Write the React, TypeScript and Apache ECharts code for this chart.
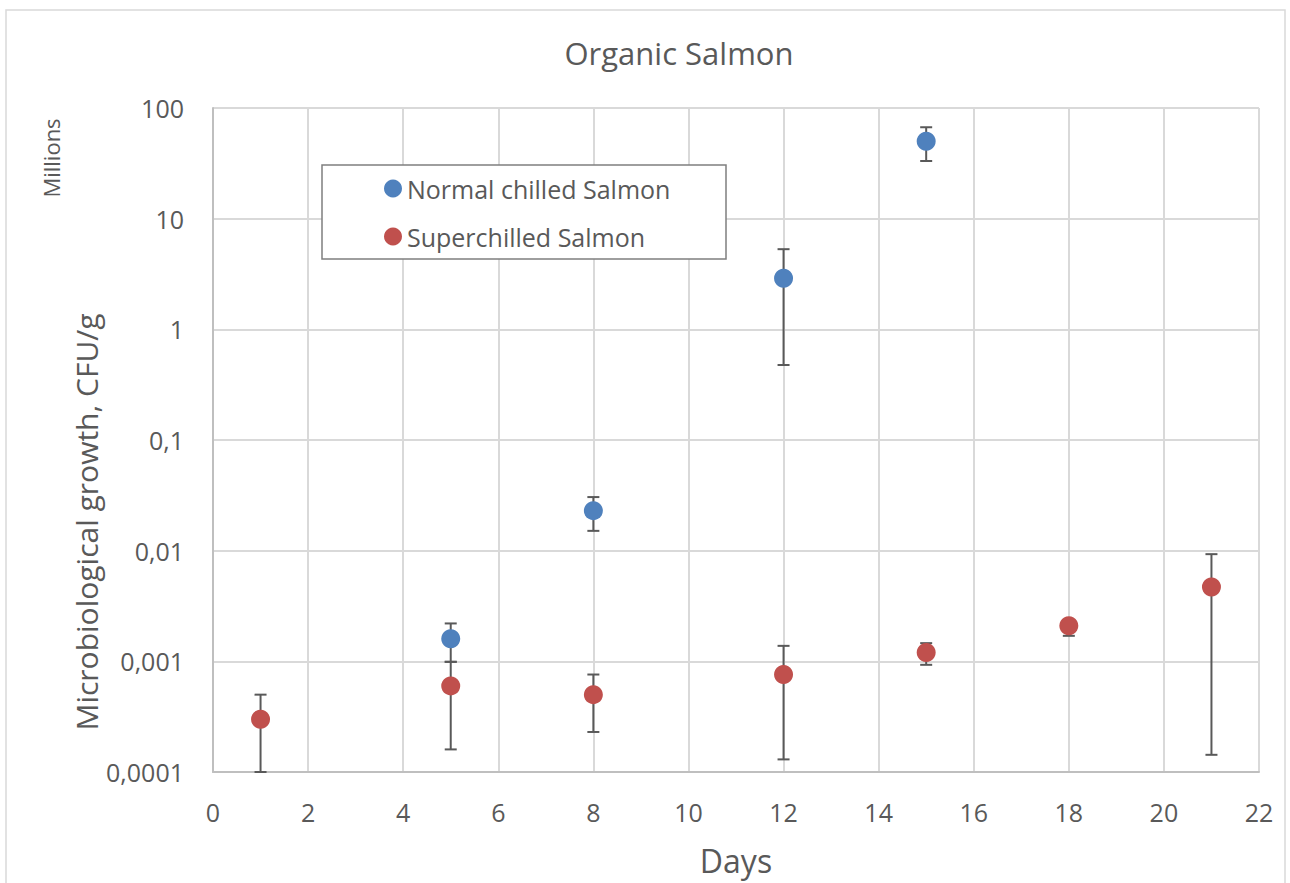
import React, { useEffect, useRef } from "react";
import * as echarts from "echarts";

const normalDays = [5, 8, 12, 15];
const normalMean = [0.0016, 0.023, 2.9, 50];
const normalLow = [0.00099, 0.0151, 0.476, 33.2];
const normalHigh = [0.0022, 0.0305, 5.3, 67];

const superDays = [1, 5, 8, 12, 15, 18, 21];
const superMean = [0.0003, 0.0006, 0.0005, 0.00076, 0.0012, 0.0021, 0.0047];
const superLow = [0.0001, 0.00016, 0.00023, 0.00013, 0.00093, 0.0017, 0.000143];
const superHigh = [0.0005, 0.00099, 0.00076, 0.00138, 0.00146, 0.00225, 0.0093];

const xTicks = [0, 2, 4, 6, 8, 10, 12, 14, 16, 18, 20, 22];

const FONT = "Open Sans";
const TXT = "#595959";

function yLabel(v: number): string {
  const e = Math.round(Math.log10(v));
  if (e >= 0) return String(Math.round(Math.pow(10, e)));
  return "0," + "0".repeat(-e - 1) + "1";
}

function errRender(params: any, api: any) {
  const x = api.value(0);
  const lo = api.value(1);
  const hi = api.value(2);
  const t = api.coord([x, hi]);
  const b = api.coord([x, lo]);
  const w = 6;
  const st = { stroke: "#595959", lineWidth: 2 };
  return {
    type: "group",
    children: [
      { type: "line", shape: { x1: t[0], y1: t[1], x2: b[0], y2: b[1] }, style: st },
      { type: "line", shape: { x1: t[0] - w, y1: t[1], x2: t[0] + w, y2: t[1] }, style: st },
      { type: "line", shape: { x1: b[0] - w, y1: b[1], x2: b[0] + w, y2: b[1] }, style: st },
    ],
  };
}

export default function App() {
  const ref = useRef<HTMLDivElement>(null);
  useEffect(() => {
    if (!ref.current) return;
    const chart = echarts.init(ref.current, null, { renderer: "svg" });
    const option: any = {
      animation: false,
      backgroundColor: "#ffffff",
      textStyle: { fontFamily: FONT },
      graphic: [
        {
          type: "rect",
          shape: { x: 6, y: 10, width: 1279, height: 900 },
          style: { fill: "none", stroke: "#d9d9d9", lineWidth: 1.5 },
          z: 0,
          silent: true,
        },
        {
          type: "rect",
          shape: { x: 322, y: 165, width: 404, height: 94 },
          style: { fill: "#ffffff", stroke: "#7f7f7f", lineWidth: 1.5 },
          z: 5,
          silent: true,
        },
        {
          type: "text",
          x: 679,
          y: 53,
          style: {
            text: "Organic Salmon",
            fontFamily: FONT,
            fontSize: 31,
            fill: TXT,
            align: "center",
            verticalAlign: "middle",
          },
        },
        {
          type: "text",
          x: 51,
          y: 158,
          rotation: Math.PI / 2,
          style: {
            text: "Millions",
            fontFamily: FONT,
            fontSize: 22,
            fill: TXT,
            align: "center",
            verticalAlign: "middle",
          },
        },
        {
          type: "text",
          x: 86,
          y: 522,
          rotation: Math.PI / 2,
          style: {
            text: "Microbiological growth, CFU/g",
            fontFamily: FONT,
            fontSize: 30,
            fill: TXT,
            align: "center",
            verticalAlign: "middle",
          },
        },
      ],
      legend: {
        orient: "vertical",
        left: 379,
        top: 171,
        itemWidth: 18,
        itemHeight: 18,
        itemGap: 23,
        z: 10,
        icon: "circle",
        textStyle: { fontFamily: FONT, fontSize: 25, color: TXT, lineHeight: 25 },
        data: ["Normal chilled Salmon", "Superchilled Salmon"],
      },
      grid: { left: 213, top: 108, right: 31, bottom: 111, containLabel: false },
      xAxis: {
        type: "value",
        min: 0,
        max: 22,
        interval: 2,
        name: "Days",
        nameLocation: "middle",
        nameGap: 72,
        nameTextStyle: { fontFamily: FONT, fontSize: 32, color: TXT },
        axisLine: { show: true, lineStyle: { color: "#bfbfbf", width: 2 } },
        axisTick: { show: false },
        axisLabel: { fontFamily: FONT, fontSize: 25, color: TXT, margin: 27, formatter: (v: number) => (xTicks.includes(v) ? String(v) : "") },
        splitLine: { show: true, lineStyle: { color: "#d9d9d9", width: 2 } },
      },
      yAxis: {
        type: "log",
        logBase: 10,
        min: 0.0001,
        max: 100,
        axisLine: { show: true, lineStyle: { color: "#bfbfbf", width: 2 } },
        axisTick: { show: false },
        axisLabel: { fontFamily: FONT, fontSize: 25, color: TXT, margin: 29, formatter: (v: number) => yLabel(v) },
        splitLine: { show: true, lineStyle: { color: "#d9d9d9", width: 2 } },
        minorSplitLine: { show: false },
      },
      series: [
        {
          name: "Normal chilled Salmon err",
          type: "custom",
          renderItem: errRender,
          data: normalDays.map((d, i) => [d, normalLow[i], normalHigh[i]]),
          encode: { x: 0, y: [1, 2] },
          clip: false,
          z: 2,
          silent: true,
        },
        {
          name: "Superchilled Salmon err",
          type: "custom",
          renderItem: errRender,
          data: superDays.map((d, i) => [d, superLow[i], superHigh[i]]),
          encode: { x: 0, y: [1, 2] },
          clip: false,
          z: 2,
          silent: true,
        },
        {
          name: "Normal chilled Salmon",
          type: "scatter",
          symbol: "circle",
          symbolSize: 19,
          itemStyle: { color: "#4f81bd", opacity: 1 },
          data: normalDays.map((d, i) => [d, normalMean[i]]),
          z: 3,
        },
        {
          name: "Superchilled Salmon",
          type: "scatter",
          symbol: "circle",
          symbolSize: 19,
          itemStyle: { color: "#c0504d", opacity: 1 },
          data: superDays.map((d, i) => [d, superMean[i]]),
          z: 3,
        },
      ],
    };
    chart.setOption(option);
    return () => chart.dispose();
  }, []);
  return (
    <div
      ref={ref}
      style={{ position: "fixed", left: 0, top: 0, width: 1290, height: 883, background: "#fff" }}
    />
  );
}
